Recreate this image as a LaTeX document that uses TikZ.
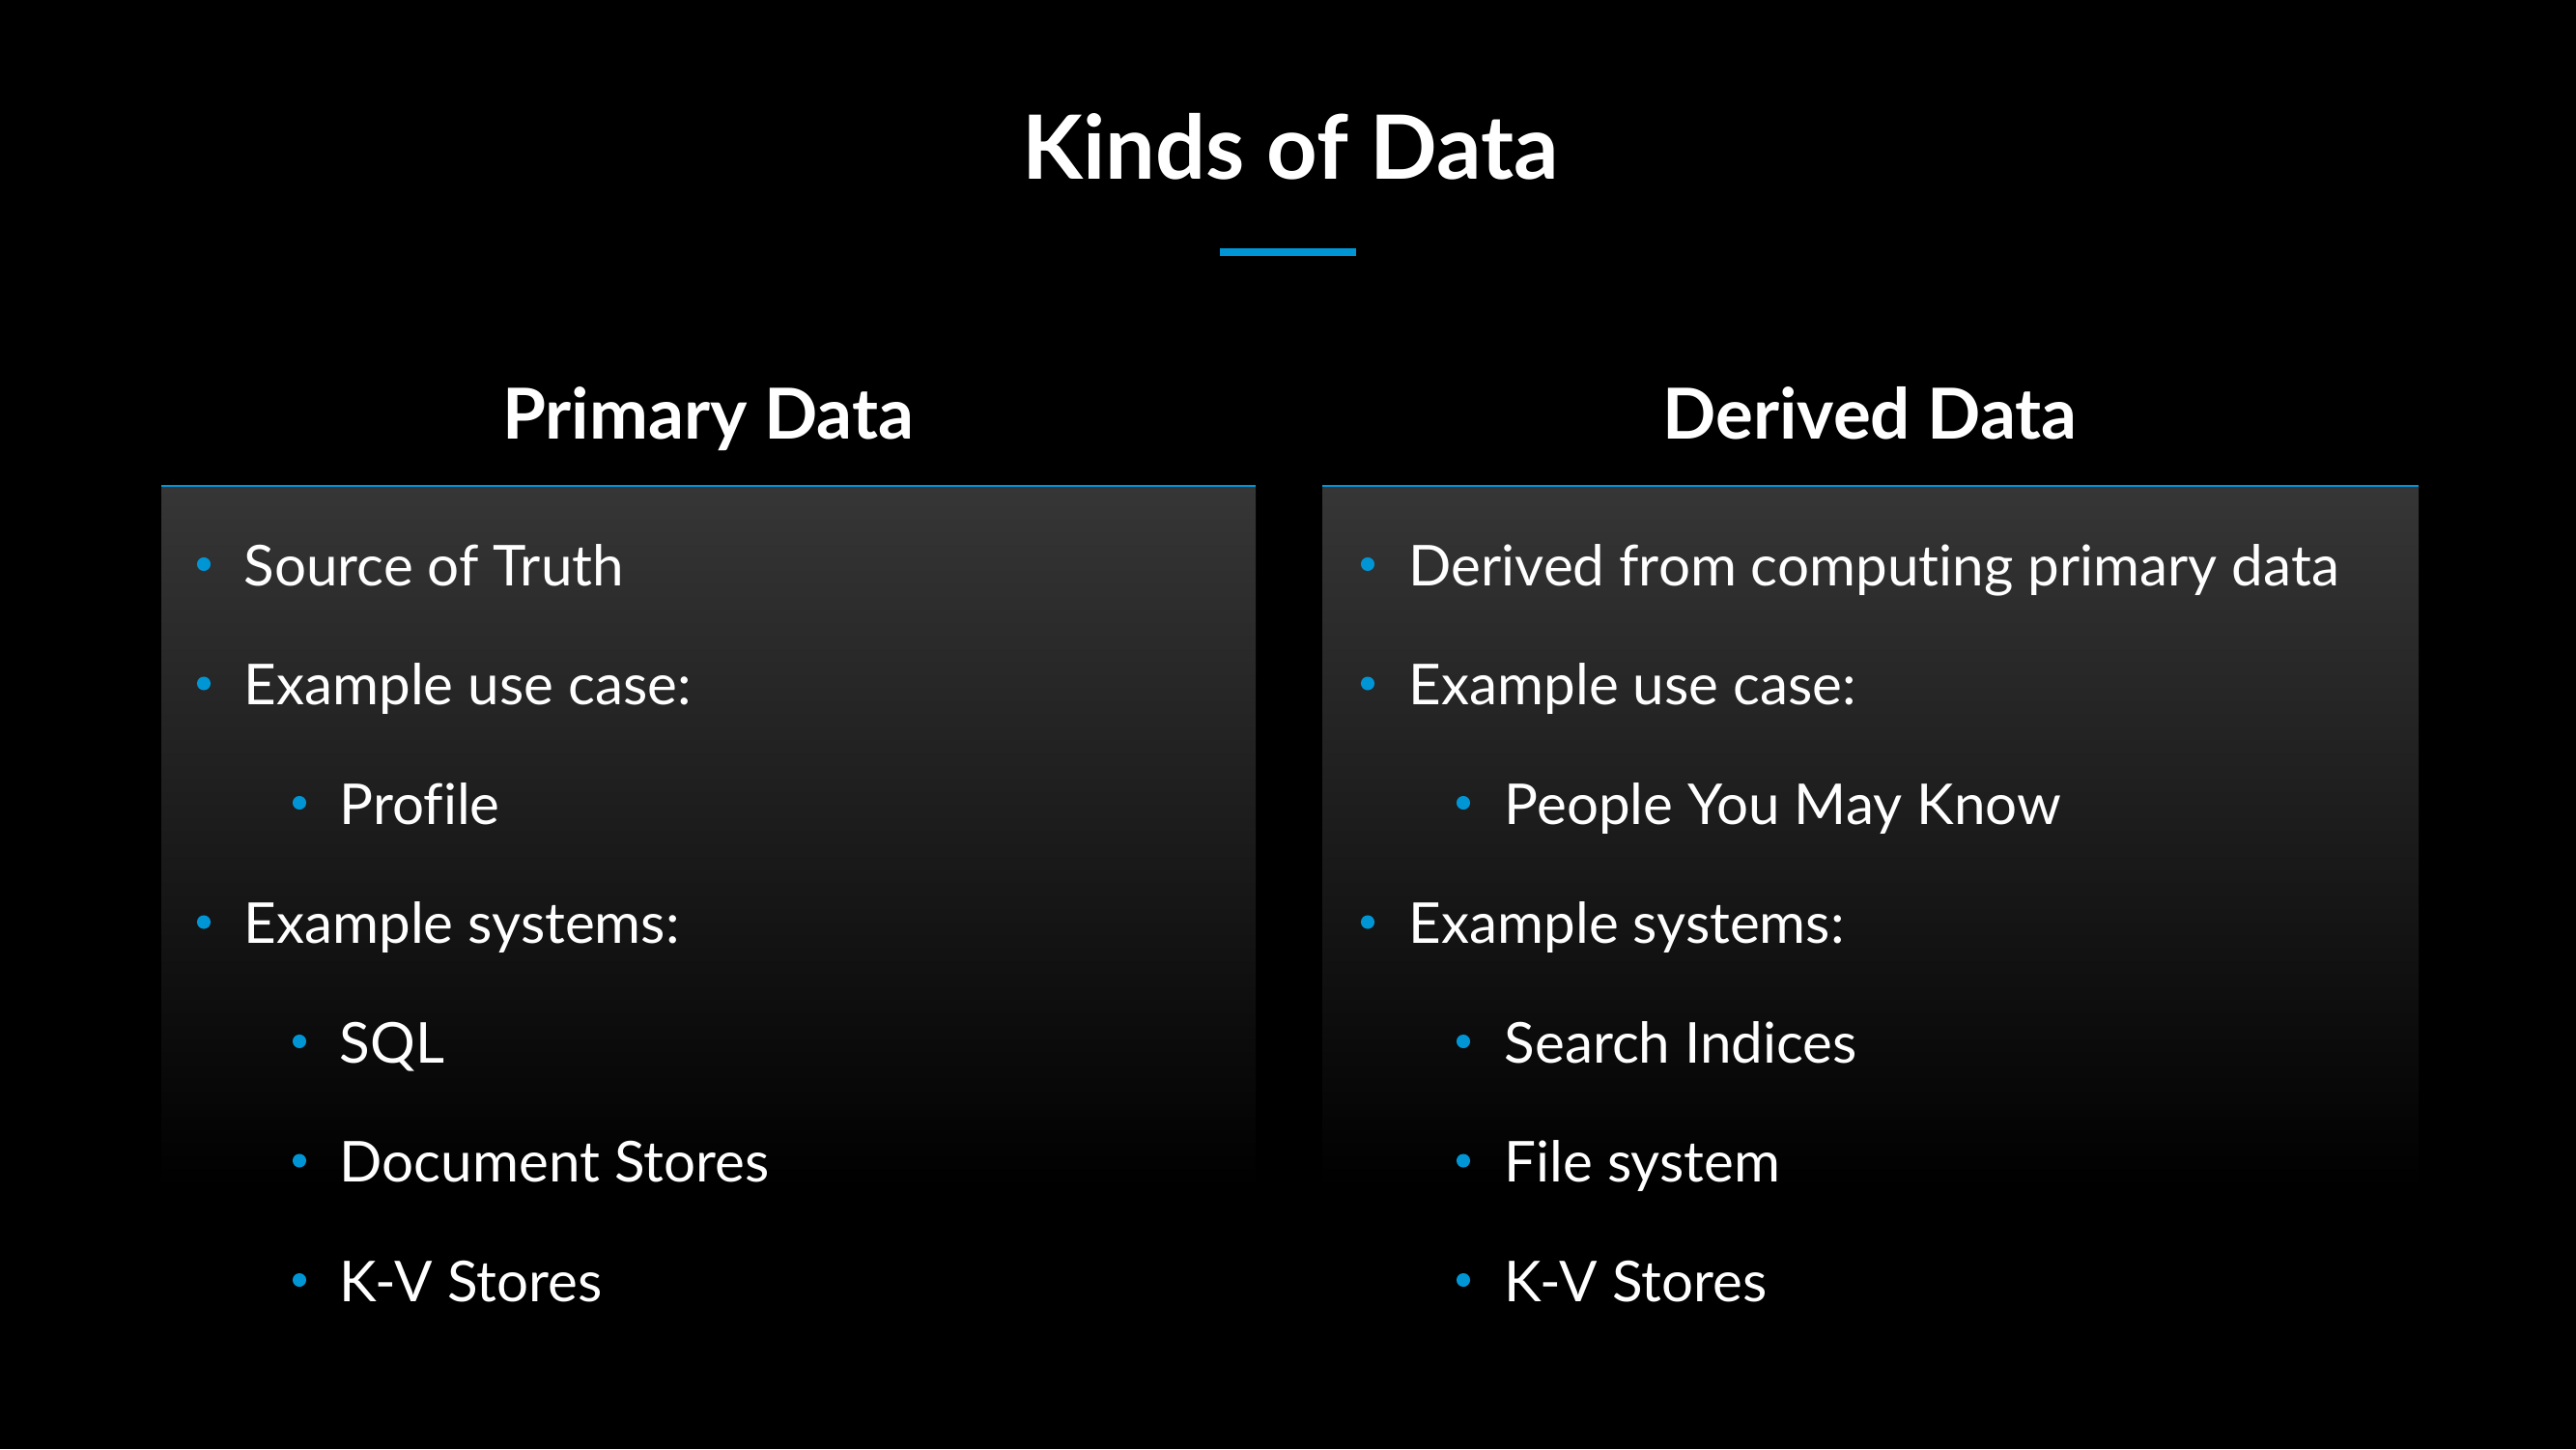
\documentclass[tikz,border=0pt]{standalone}
\usepackage{fontspec}
\setmainfont{Lato}[Ligatures=NoCommon]
\usetikzlibrary{positioning}
\definecolor{accent}{RGB}{0,150,214}
\definecolor{panel}{RGB}{54,54,54}
\tikzset{
  title/.style={anchor=base, text=white, inner sep=0pt, font=\fontsize{26.1}{30}\selectfont\bfseries},
  head/.style={anchor=base, text=white, inner sep=0pt, font=\fontsize{20.7}{24}\selectfont\bfseries},
  item/.style={anchor=base west, text=white, inner sep=0pt, font=\fontsize{16.6}{20}\selectfont},
  dot/.style={circle, fill=accent, inner sep=0pt, minimum size=4pt}
}
\begin{document}
\begin{tikzpicture}
    \fill[black] (0,0) rectangle (26.67,-15);
    \useasboundingbox (0,0) rectangle (26.67,-15);

    \node[title] (title) at (13.36,-1.85) {Kinds of Data};
    \draw[accent, line width=2pt] (12.63,-2.61) -- (14.04,-2.61);

    \shade[top color=panel, bottom color=black] (1.67,-5.03) rectangle (13.0,-12.3);
    \shade[top color=panel, bottom color=black] (13.69,-5.03) rectangle (25.04,-12.3);
    \draw[accent, line width=0.6pt] (1.67,-5.03) -- (13.0,-5.03) (13.69,-5.03) -- (25.04,-5.03);

    \node[head] (primary) at (7.33,-4.54) {Primary Data};
    \node[head] (derived) at (19.36,-4.54) {Derived Data};

    \foreach \i/\l/\t in {1/0/Source of Truth, 2/0/Example use case:, 3/1/Profile,
      4/0/Example systems:, 5/1/SQL, 6/1/Document Stores, 7/1/K-V Stores} {
      \node[dot] (pdot\i) at ({2.11+\l*0.99},{-5.84-1.235*(\i-1)}) {};
      \node[item] (ptext\i) at ([xshift=0.41cm, yshift=-0.22cm]pdot\i.center) {\t};
    }
    \foreach \i/\l/\t in {1/0/Derived from computing primary data, 2/0/Example use case:,
      3/1/People You May Know, 4/0/Example systems:, 5/1/Search Indices,
      6/1/File system, 7/1/K-V Stores} {
      \node[dot] (ddot\i) at ({14.16+\l*0.99},{-5.84-1.235*(\i-1)}) {};
      \node[item] (dtext\i) at ([xshift=0.42cm, yshift=-0.22cm]ddot\i.center) {\t};
    }
\end{tikzpicture}
\end{document}
